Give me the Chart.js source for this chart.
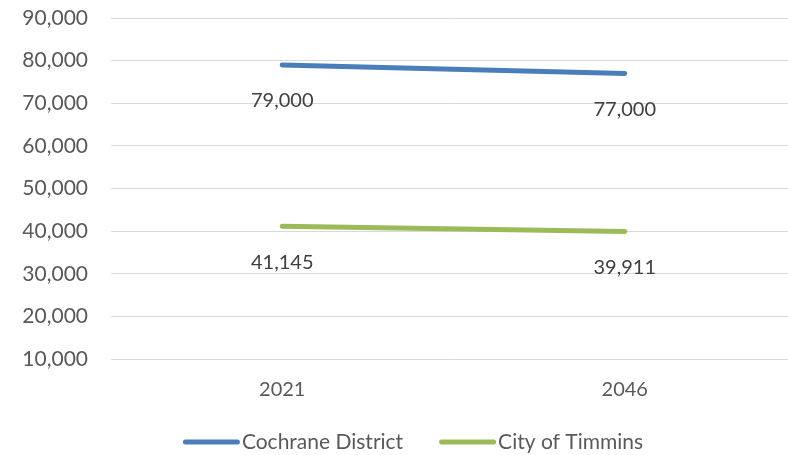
<!DOCTYPE html>
<html>
<head>
<meta charset="utf-8">
<script src="https://cdn.jsdelivr.net/npm/chart.js@4/dist/chart.umd.min.js"></script>
<style>
html,body{margin:0;padding:0;background:#fff;overflow:hidden;width:788px;height:455px;}
#wrap{position:relative;width:796px;height:455px;}
</style>
</head>
<body>
<div id="wrap"><canvas id="c" width="796" height="455"></canvas></div>
<script>
const years = ['2021', '2046'];
const cochraneDistrict = [79000, 77000];
const cityOfTimmins = [41145, 39911];
const yTicks = [10000, 20000, 30000, 40000, 50000, 60000, 70000, 80000, 90000];
const seriesNames = ['Cochrane District', 'City of Timmins'];

const FONT = 'Lato, "Open Sans", sans-serif';
const fmt = v => Number(v).toLocaleString('en-US');

const dataLabels = {
  id: 'dataLabels',
  afterDatasetsDraw(chart) {
    const ctx = chart.ctx;
    ctx.save();
    ctx.font = '20px ' + FONT;
    ctx.fillStyle = '#404040';
    ctx.textAlign = 'center';
    ctx.textBaseline = 'middle';
    chart.data.datasets.forEach((ds, i) => {
      const meta = chart.getDatasetMeta(i);
      meta.data.forEach((pt, j) => {
        ctx.fillText(fmt(ds.data[j]), pt.x, pt.y + 36);
      });
    });
    ctx.restore();
  }
};

const customLegend = {
  id: 'customLegend',
  afterDraw(chart) {
    const ctx = chart.ctx;
    ctx.save();
    ctx.font = '21px ' + FONT;
    ctx.textBaseline = 'middle';
    ctx.textAlign = 'left';
    const y = 442;
    const lineW = 57, gap = 2, itemGap = 36;
    const items = chart.data.datasets.map(ds => ({text: ds.label, color: ds.borderColor, w: ctx.measureText(ds.label).width}));
    let total = 0;
    items.forEach((it, i) => { total += lineW + gap + it.w + (i < items.length - 1 ? itemGap : 0); });
    let x = 394 - total / 2 + 19;
    items.forEach(it => {
      ctx.strokeStyle = it.color;
      ctx.lineWidth = 5;
      ctx.lineCap = 'round';
      ctx.beginPath();
      ctx.moveTo(x + 2.5, y);
      ctx.lineTo(x + lineW - 2.5, y);
      ctx.stroke();
      ctx.fillStyle = '#595959';
      ctx.fillText(it.text, x + lineW + gap, y);
      x += lineW + gap + it.w + itemGap;
    });
    ctx.restore();
  }
};

new Chart(document.getElementById('c'), {
  type: 'line',
  data: {
    labels: years,
    datasets: [
      {label: seriesNames[0], data: cochraneDistrict, borderColor: '#4A7EBB', backgroundColor: '#4A7EBB', borderWidth: 5, borderCapStyle: 'round', pointRadius: 0, tension: 0},
      {label: seriesNames[1], data: cityOfTimmins, borderColor: '#9BBB59', backgroundColor: '#9BBB59', borderWidth: 5, borderCapStyle: 'round', pointRadius: 0, tension: 0}
    ]
  },
  options: {
    responsive: false,
    animation: false,
    layout: {padding: {top: 18, left: 0, right: 0, bottom: 0}},
    plugins: {legend: {display: false}, tooltip: {enabled: false}},
    scales: {
      x: {
        offset: true,
        grid: {display: false, drawTicks: false},
        border: {display: false},
        ticks: {color: '#595959', font: {family: FONT, size: 20}, padding: 19},
        afterFit(s) { s.height = 96; s.paddingLeft = 0; s.paddingRight = 0; }
      },
      y: {
        min: 10000, max: 90000,
        afterBuildTicks(s) { s.ticks = yTicks.map(v => ({value: v})); },
        grid: {color: '#D9D9D9', lineWidth: 1, drawTicks: false},
        border: {display: false},
        ticks: {color: '#595959', font: {family: FONT, size: 21}, padding: 23, callback: v => fmt(v)},
        afterFit(s) { s.width = 111; s.paddingTop = 0; s.paddingBottom = 0; }
      }
    }
  },
  plugins: [dataLabels, customLegend]
});
</script>
</body>
</html>
